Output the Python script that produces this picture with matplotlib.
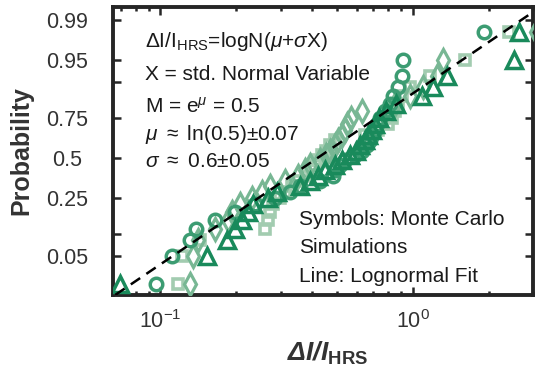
import numpy as np
import matplotlib
matplotlib.use("Agg")
import matplotlib.pyplot as plt
from statistics import NormalDist

plt.rcParams['font.family'] = ['Liberation Sans', 'DejaVu Sans']
plt.rcParams['mathtext.fontset'] = 'custom'
plt.rcParams['mathtext.rm'] = 'Liberation Sans'
plt.rcParams['mathtext.it'] = 'Liberation Sans:italic'
plt.rcParams['mathtext.bf'] = 'Liberation Sans:bold'

# cumulative probability levels shared by all four runs (30 samples each)
prob_levels = [0.0167, 0.05, 0.0833, 0.1167, 0.15, 0.1833, 0.2167, 0.25, 0.2833, 0.3167,
               0.35, 0.3833, 0.4167, 0.45, 0.4833, 0.5167, 0.55, 0.5833, 0.6167, 0.65,
               0.6833, 0.7167, 0.75, 0.7833, 0.8167, 0.85, 0.8833, 0.9167, 0.95, 0.9833]

# sorted dI/I_HRS values for each Monte Carlo run
run_tri = [0.0695, 0.1535, 0.184, 0.198, 0.211, 0.223, 0.233, 0.267, 0.290, 0.357,
           0.392, 0.421, 0.449, 0.492, 0.524, 0.564, 0.595, 0.617, 0.646, 0.664,
           0.689, 0.708, 0.734, 0.782, 0.857, 1.086, 1.20, 1.375, 2.53, 2.65]
run_circ = [0.0964, 0.1115, 0.1314, 0.1388, 0.165, 0.198, 0.237, 0.285, 0.327, 0.357,
            0.429, 0.483, 0.492, 0.515, 0.539, 0.590, 0.629, 0.658, 0.676, 0.689,
            0.708, 0.721, 0.741, 0.775, 0.811, 0.834, 0.873, 0.905, 0.913, 1.926]
run_sq = [0.1178, 0.122, 0.144, 0.260, 0.267, 0.272, 0.280, 0.298, 0.312, 0.333,
          0.351, 0.380, 0.400, 0.410, 0.421, 0.437, 0.453, 0.470, 0.492, 0.646,
          0.727, 0.797, 0.826, 0.849, 0.873, 0.905, 0.973, 1.167, 1.606, 2.417]
run_dia = [0.1314, 0.135, 0.1413, 0.165, 0.1857, 0.1927, 0.207, 0.230, 0.253, 0.272,
           0.312, 0.351, 0.374, 0.392, 0.429, 0.453, 0.470, 0.492, 0.505, 0.524,
           0.539, 0.552, 0.570, 0.629, 0.849, 0.973, 1.10, 1.25, 1.314, 3.09]

# lognormal fit drawn as the dashed line
fit_median = 0.42
fit_sigma = 0.8

ytick_vals = [0.05, 0.1, 0.25, 0.5, 0.75, 0.9, 0.95, 0.99]
ytick_text = ['0.05', '', '0.25', '0.5', '0.75', '', '0.95', '0.99']

_nd = NormalDist()
_ppf = np.vectorize(_nd.inv_cdf, otypes=[float])
_cdf = np.vectorize(_nd.cdf, otypes=[float])


def prob_to_z(p):
    p = np.clip(np.asarray(p, dtype=float), 1e-9, 1 - 1e-9)
    return _ppf(p)


def z_to_prob(z):
    return _cdf(np.asarray(z, dtype=float))


fig = plt.figure(figsize=(5.36, 3.74), dpi=100)
ax = fig.add_axes([113 / 536, 79 / 374, 420 / 536, 288 / 374])
ax.set_xscale('log')
ax.set_yscale('function', functions=(prob_to_z, z_to_prob))

mk = dict(linestyle='none', markerfacecolor='none', clip_on=True)
ax.plot(run_sq, prob_levels, marker='s', ms=7, mew=2.6, color='#a2ccb0', **mk, zorder=2)
ax.plot(run_dia, prob_levels, marker='d', ms=11, mew=2.3, color='#78b794', **mk, zorder=3)
ax.plot(run_circ, prob_levels, marker='o', ms=9, mew=2.5, color='#3c9c72', **mk, zorder=4)
ax.plot(run_tri, prob_levels, marker='^', ms=11, mew=2.5, color='#198a5b', **mk, zorder=5)

xf = np.logspace(np.log10(0.05), np.log10(3.5), 200)
pf = z_to_prob((np.log(xf) - np.log(fit_median)) / fit_sigma)
ax.plot(xf, pf, color='black', lw=1.8, linestyle=(0, (4.5, 3)), zorder=6)

ax.set_xlim(0.065, 3.0)
ax.set_ylim(0.0105, 0.9945)
ax.set_yticks(ytick_vals)
ax.set_yticklabels(ytick_text)
ax.yaxis.set_minor_locator(matplotlib.ticker.NullLocator())

for s in ax.spines.values():
    s.set_linewidth(2.8)
    s.set_color('#262626')
ax.tick_params(which='both', direction='in', top=True, right=True,
               color='#262626', labelcolor='#333333', labelsize=15.5)
ax.tick_params(axis='y', which='major', length=5.5, width=1.8, pad=32.8)
ax.tick_params(axis='x', which='major', length=5.5, width=1.8, pad=11)
ax.tick_params(axis='x', which='minor', length=3, width=1.8)
for lab in ax.get_yticklabels():
    lab.set_horizontalalignment('center')

ax.set_ylabel('Probability', fontsize=18, fontweight='bold', color='#333333')
ax.yaxis.set_label_coords(-0.19, 0.5)
ax.set_xlabel(r'ΔI/I$_{\mathbf{HRS}}$', fontsize=19, fontweight='bold',
              style='italic', color='#333333')
ax.xaxis.set_label_coords(0.51, -0.155)

tk = dict(transform=ax.transAxes, fontsize=15, color='#1a1a1a', va='baseline', ha='left')
ax.text(0.076, 0.861, r'ΔI/I$_{\rm HRS}$=logN($\mu$+$\sigma$X)', **tk)
ax.text(0.076, 0.747, 'X = std. Normal Variable', **tk)
ax.text(0.076, 0.632, r'M = e$^{\mu}$ = 0.5', **tk)
ax.text(0.076, 0.538, r'$\mu$ $\approx$ ln(0.5)$\pm$0.07', **tk)
ax.text(0.076, 0.444, r'$\sigma$ $\approx$ 0.6$\pm$0.05', **tk)
ax.text(0.443, 0.243, 'Symbols: Monte Carlo', **tk)
ax.text(0.443, 0.146, 'Simulations', **tk)
ax.text(0.443, 0.045, 'Line: Lognormal Fit', **tk)

fig.savefig('out.png', dpi=100)
